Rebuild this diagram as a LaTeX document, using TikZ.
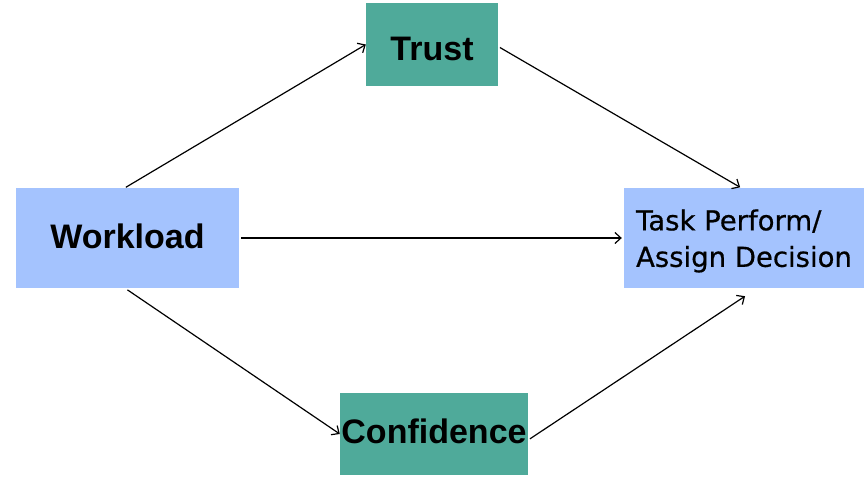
\documentclass[tikz,border=0pt]{standalone}
\usepackage{fontspec}
\usetikzlibrary{arrows.meta}
\setmainfont{Liberation Sans}
\newfontfamily\taskfont[FakeBold=0.6]{DejaVu Sans}
\definecolor{tealbox}{HTML}{4FAA9A}
\definecolor{bluebox}{HTML}{A4C3FE}
\begin{document}
\begin{tikzpicture}[x=1pt,y=-1pt,
  teal/.style={fill=tealbox,draw=none,inner sep=0pt,font=\fontsize{34}{40}\selectfont\bfseries},
  blue/.style={fill=bluebox,draw=none,inner sep=0pt,font=\fontsize{34}{40}\selectfont\bfseries},
  conn/.style={-{Straight Barb[length=6pt,width=11pt,line width=1.2pt]},line width=1.2pt,black}]
\useasboundingbox (0,0) rectangle (864,477);
\node[teal,minimum width=132pt,minimum height=83pt] (T) at (432,44.5) {};
\node at (T.center) [font=\fontsize{34}{40}\selectfont\bfseries,yshift=-4pt] (Tt) {Trust};
\node[blue,minimum width=223pt,minimum height=100pt] (W) at (127.5,238) {};
\node at (W.center) [font=\fontsize{34}{40}\selectfont\bfseries,yshift=2pt] (Wt) {Workload};
\node[blue,minimum width=240pt,minimum height=100pt] (P) at (744,238) {};
\node at (P.center) [align=left,font=\taskfont\fontsize{27.5}{36.5}\selectfont,yshift=-3pt] (Pt) {Task Perform/\\Assign Decision};
\node[teal,minimum width=188pt,minimum height=82pt] (C) at (434,434) {};
\node at (C.center) [font=\fontsize{34}{40}\selectfont\bfseries,yshift=3pt] (Ct) {Confidence};
\draw[conn,shorten <=1pt] ([xshift=-2.5pt]W.north) -- (T.west);
\draw[conn,shorten <=2pt,shorten >=1pt] ([yshift=-2pt]T.east) -- ([xshift=-3pt]P.north);
\draw[conn,shorten <=2pt,shorten >=2pt] (W.east) -- (P.west);
\draw[conn,shorten <=3pt] ([xshift=-2.5pt]W.south) -- (C.west);
\draw[conn,shorten <=2pt] ([yshift=-6pt]C.east) -- ([xshift=1pt,yshift=-8pt]P.south);
\end{tikzpicture}
\end{document}
